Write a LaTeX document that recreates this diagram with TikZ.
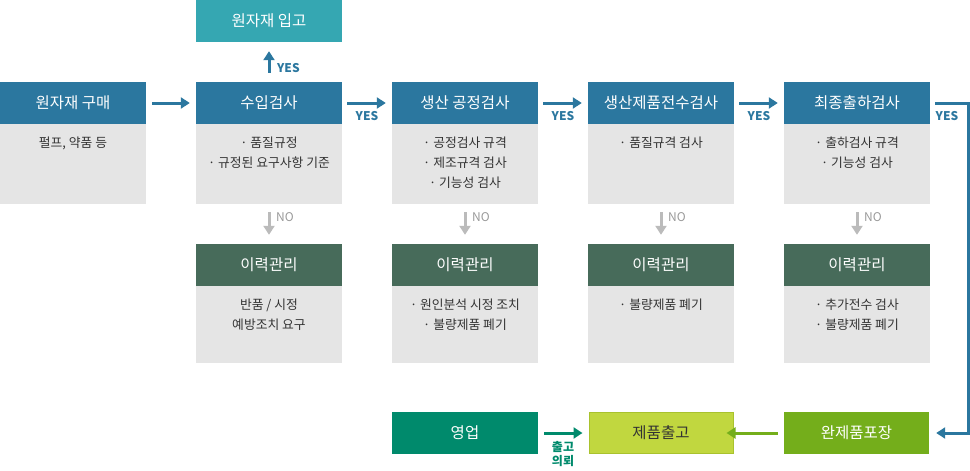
\documentclass[tikz,border=0pt]{standalone}
\usepackage{fontspec}
\setmainfont{Noto Sans CJK KR}
\usetikzlibrary{arrows.meta}
\definecolor{hblue}{HTML}{2B779F}
\definecolor{hteal}{HTML}{35A7B2}
\definecolor{hgreen}{HTML}{476B5A}
\definecolor{bgray}{HTML}{E5E5E5}
\definecolor{sales}{HTML}{008A6C}
\definecolor{outc}{HTML}{C1D73F}
\definecolor{outb}{HTML}{A9C22E}
\definecolor{packc}{HTML}{74AE1B}
\definecolor{agray}{HTML}{BBBBBB}
\definecolor{tgray}{HTML}{999999}
\definecolor{tdark}{HTML}{333333}
\tikzset{
  box/.style={rectangle, inner sep=0, minimum width=146pt, minimum height=42pt, text=white, font=\fontsize{15.5}{17}\selectfont},
  hdr/.style={box, fill=hblue},
  rec/.style={box, fill=hgreen},
  body/.style={rectangle, inner sep=0, minimum width=146pt, fill=bgray},
  btxt/.style={anchor=north, inner sep=0, align=center, text=tdark, font=\fontsize{12.8}{20}\selectfont},
  yesl/.style={text=hblue, inner sep=0, font=\fontsize{12}{14}\selectfont\bfseries},
  nol/.style={text=tgray, inner sep=0, anchor=west, font=\fontsize{12}{14}\selectfont},
  barrow/.style={draw=hblue, line width=3pt, -{Triangle[length=9pt,width=11pt]}},
  garrow/.style={draw=agray, line width=3pt, -{Triangle[length=9pt,width=11pt]}},
}
\begin{document}
\begin{tikzpicture}[x=1pt,y=-1pt]
\useasboundingbox (0,0) rectangle (970,471);
% column 1
\node[hdr] (h1) at (73,103) {원자재 구매};
\node[body, minimum height=80pt] (b1) at (73,164) {};
\node[btxt] (t1) at (73,137) {펄프, 약품 등};
% column 2
\node[box, fill=hteal] (in) at (269,21) {원자재 입고};
\node[hdr] (h2) at (269,103) {수입검사};
\node[body, minimum height=80pt] (b2) at (269,164) {};
\node[btxt] (t2) at (269,137) {· 품질규정\\· 규정된 요구사항 기준};
\node[rec] (r2) at (269,265) {이력관리};
\node[body, minimum height=77pt] (c2) at (269,324.5) {};
\node[btxt] (u2) at (269,298.5) {반품 / 시정\\예방조치 요구};
% column 3
\node[hdr] (h3) at (465,103) {생산 공정검사};
\node[body, minimum height=80pt] (b3) at (465,164) {};
\node[btxt] (t3) at (465,137) {· 공정검사 규격\\· 제조규격 검사\\· 기능성 검사};
\node[rec] (r3) at (465,265) {이력관리};
\node[body, minimum height=77pt] (c3) at (465,324.5) {};
\node[btxt] (u3) at (465,298.5) {· 원인분석 시정 조치\\· 불량제품 폐기};
% column 4
\node[hdr] (h4) at (661,103) {생산제품전수검사};
\node[body, minimum height=80pt] (b4) at (661,164) {};
\node[btxt] (t4) at (661,137) {· 품질규격 검사};
\node[rec] (r4) at (661,265) {이력관리};
\node[body, minimum height=77pt] (c4) at (661,324.5) {};
\node[btxt] (u4) at (661,298.5) {· 불량제품 폐기};
% column 5
\node[hdr] (h5) at (857,103) {최종출하검사};
\node[body, minimum height=80pt] (b5) at (857,164) {};
\node[btxt] (t5) at (857,137) {· 출하검사 규격\\· 기능성 검사};
\node[rec] (r5) at (857,265) {이력관리};
\node[body, minimum height=77pt] (c5) at (857,324.5) {};
\node[btxt] (u5) at (857,298.5) {· 추가전수 검사\\· 불량제품 폐기};
% bottom row
\node[box, fill=sales] (sal) at (465,433) {영업};
\node[box, fill=outc, draw=outb, line width=1pt, minimum width=144pt, minimum height=41pt, text=tdark] (out) at (661,433) {제품출고};
\node[box, fill=packc, minimum width=145pt] (pack) at (856.5,433) {완제품포장};
% connectors
\draw[barrow] ([xshift=6pt]h1.east) -- ([xshift=-6pt]h2.west);
\draw[barrow] ([yshift=9pt]h2.north) -- ([yshift=-9pt]in.south);
\node[yesl, anchor=west] (y0) at (277,68) {YES};
\draw[barrow] ([xshift=5pt]h2.east) -- ([xshift=-6pt]h3.west);
\node[yesl] (y1) at (367,116) {YES};
\draw[barrow] ([xshift=5pt]h3.east) -- ([xshift=-6pt]h4.west);
\node[yesl] (y2) at (563,116) {YES};
\draw[barrow] ([xshift=5pt]h4.east) -- ([xshift=-6pt]h5.west);
\node[yesl] (y3) at (759,116) {YES};
\coordinate (rc) at (968.5,103);
\draw[barrow] ([xshift=5pt]h5.east) -- (rc) |- ([xshift=7pt]pack.east);
\node[yesl] (y4) at (947,116) {YES};
% NO arrows
\foreach \i in {2,3,4,5}{
  \draw[garrow] ([yshift=-8pt]b\i.south) -- ([yshift=9pt]r\i.north);
}
\node[nol] at (276,217) {NO};
\node[nol] at (472,217) {NO};
\node[nol] at (668,217) {NO};
\node[nol] at (864,217) {NO};
% bottom arrows
\draw[draw=packc, line width=3pt, -{Triangle[length=9pt,width=11pt]}] ([xshift=-6pt]pack.west) -- ([xshift=-7pt]out.east);
\draw[draw=sales, line width=3pt, -{Triangle[length=9pt,width=11pt]}] ([xshift=6pt]sal.east) -- ([xshift=-6pt]out.west);
\node[text=sales, inner sep=0, align=center, font=\fontsize{12}{13.5}\selectfont\bfseries] (req) at (563,454) {출고\\의뢰};
\end{tikzpicture}
\end{document}
